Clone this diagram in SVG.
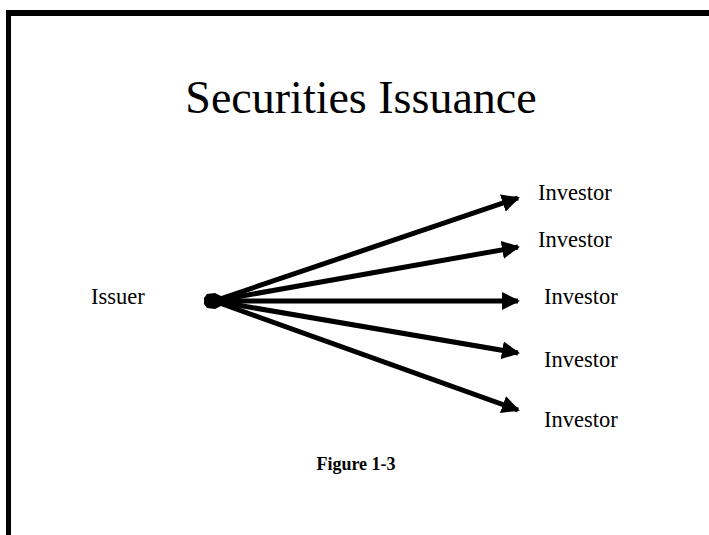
<svg xmlns="http://www.w3.org/2000/svg" width="709" height="535" viewBox="0 0 709 535">
<style>
.t{font-family:"Liberation Serif","Times New Roman",serif;fill:#000}
.inv{font-size:22.5px}
.c line{stroke:#000;stroke-width:5;marker-end:url(#ah)}
</style>
<defs>
<marker id="ah" markerUnits="userSpaceOnUse" markerWidth="18" markerHeight="18" refX="16" refY="9" orient="auto">
<path d="M0,0 L18,9 L0,18 Z" fill="#000"/>
</marker>
</defs>
<rect width="709" height="535" fill="#fff"/>
<g id="frame">
<rect x="6" y="10" width="703" height="6" fill="#000"/>
<rect x="6" y="10" width="5" height="525" fill="#000"/>
</g>
<text class="t" x="361" y="113" font-size="46" text-anchor="middle">Securities Issuance</text>
<g id="issuer">
<text class="t inv" x="91" y="304">Issuer</text>
<path d="M204,298 L207,294 L215,293 L221,296 L221,306 L215,309 L207,308 L204,304 Z" fill="#000"/>
</g>
<g class="c" id="connectors">
<line x1="214" y1="301" x2="518" y2="198"/>
<line x1="214" y1="301" x2="518" y2="247"/>
<line x1="214" y1="301" x2="518" y2="301"/>
<line x1="214" y1="301" x2="518" y2="353"/>
<line x1="214" y1="301" x2="518" y2="410"/>
</g>
<g id="inv1"><text class="t inv" x="538" y="200">Investor</text></g>
<g id="inv2"><text class="t inv" x="538" y="247">Investor</text></g>
<g id="inv3"><text class="t inv" x="544" y="304">Investor</text></g>
<g id="inv4"><text class="t inv" x="544" y="367">Investor</text></g>
<g id="inv5"><text class="t inv" x="544" y="427">Investor</text></g>
<text class="t" x="356" y="470" font-size="18" font-weight="bold" text-anchor="middle">Figure 1-3</text>
</svg>
